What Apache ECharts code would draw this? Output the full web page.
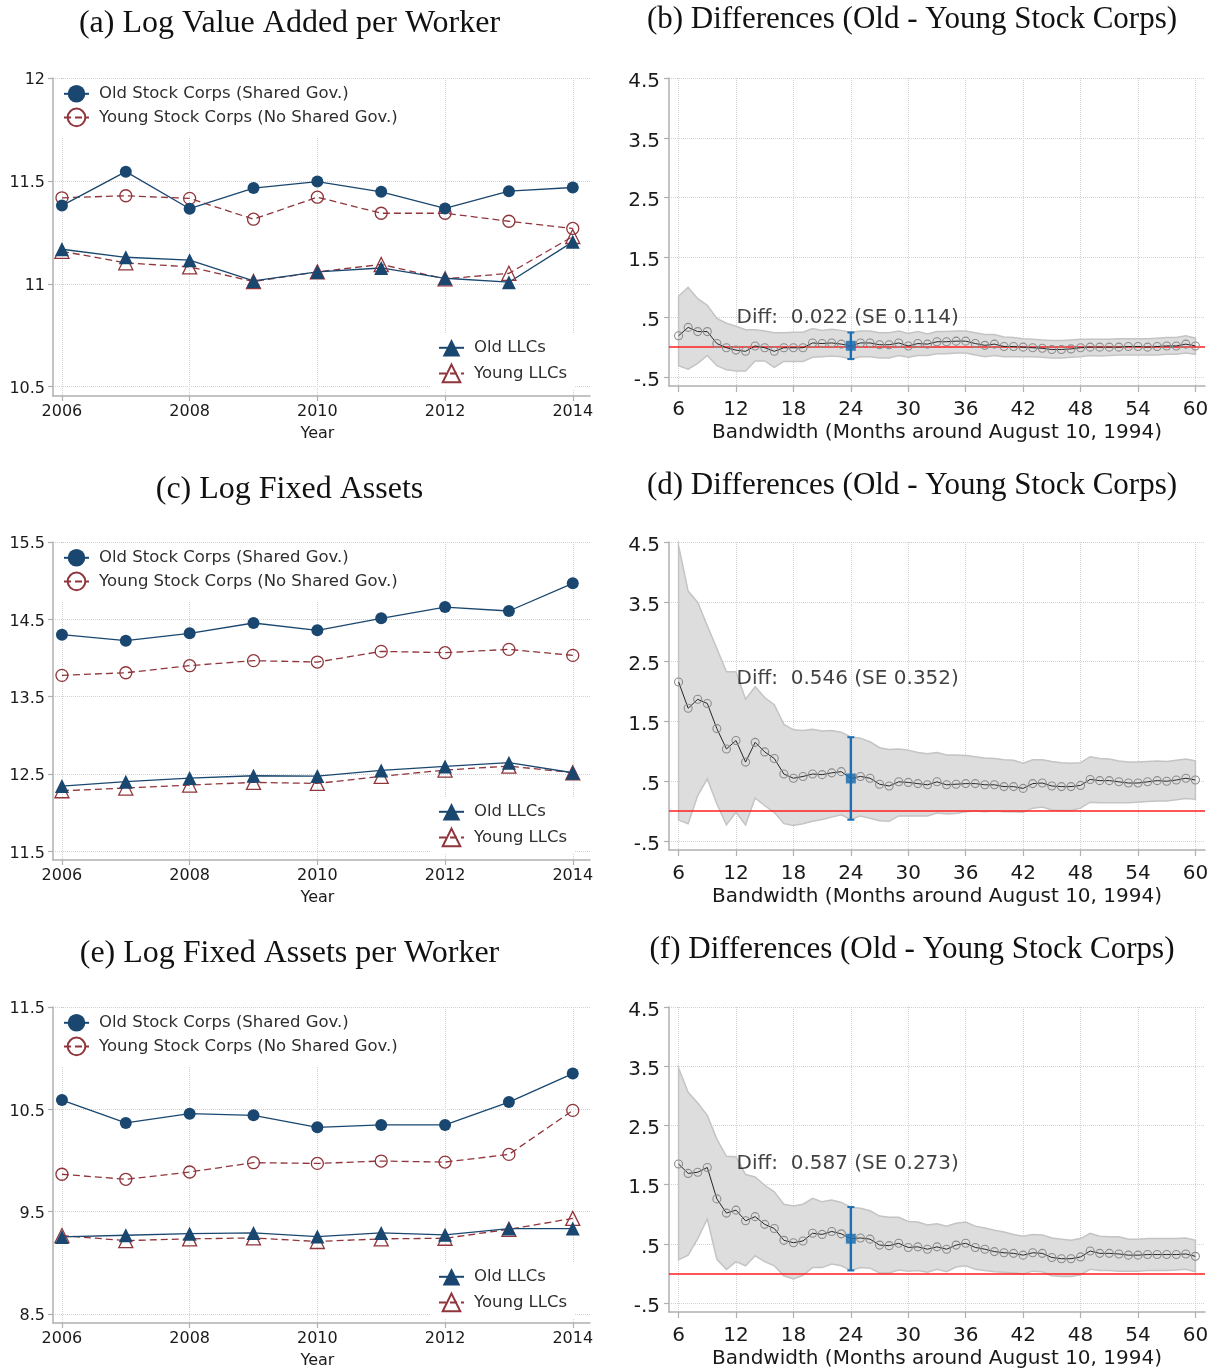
<!DOCTYPE html>
<html>
<head>
<meta charset="utf-8">
<title>Old vs Young Stock Corps</title>
<script src="https://cdn.jsdelivr.net/npm/echarts@6/dist/echarts.min.js"></script>
<style>
  html, body { margin: 0; padding: 0; background: #fff; }
  #chart { width: 1218px; height: 1370px; }
</style>
</head>
<body>
<div id="chart"></div>
<script>
// ---- data: left panels (by year) ----
var years = [2006, 2007, 2008, 2009, 2010, 2011, 2012, 2013, 2014];

// (a) log value added per worker
var vaOldCorp    = [11.38, 11.545, 11.365, 11.465, 11.497, 11.447, 11.366, 11.45, 11.468];
var vaYoungCorp  = [11.418, 11.428, 11.415, 11.314, 11.421, 11.343, 11.343, 11.304, 11.269];
var vaOldLLC     = [11.168, 11.129, 11.115, 11.014, 11.058, 11.077, 11.027, 11.008, 11.204];
var vaYoungLLC   = [11.158, 11.102, 11.082, 11.011, 11.058, 11.094, 11.024, 11.051, 11.23];

// (c) log fixed assets
var faOldCorp    = [14.302, 14.224, 14.319, 14.453, 14.358, 14.513, 14.659, 14.608, 14.966];
var faYoungCorp  = [13.776, 13.81, 13.901, 13.966, 13.948, 14.086, 14.069, 14.112, 14.034];
var faOldLLC     = [12.345, 12.401, 12.448, 12.478, 12.474, 12.547, 12.599, 12.647, 12.517];
var faYoungLLC   = [12.284, 12.319, 12.358, 12.392, 12.379, 12.47, 12.552, 12.603, 12.517];

// (e) log fixed assets per worker
var fwOldCorp    = [10.591, 10.367, 10.458, 10.442, 10.325, 10.348, 10.348, 10.571, 10.85];
var fwYoungCorp  = [9.866, 9.817, 9.888, 9.979, 9.972, 9.995, 9.985, 10.06, 10.49];
var fwOldLLC     = [9.254, 9.27, 9.286, 9.293, 9.257, 9.293, 9.274, 9.335, 9.335];
var fwYoungLLC   = [9.267, 9.218, 9.235, 9.244, 9.209, 9.235, 9.241, 9.328, 9.435];

// ---- data: right panels (by bandwidth in months) ----
var bandwidth = [6, 7, 8, 9, 10, 11, 12, 13, 14, 15, 16, 17, 18, 19, 20, 21, 22, 23, 24, 25,
                 26, 27, 28, 29, 30, 31, 32, 33, 34, 35, 36, 37, 38, 39, 40, 41, 42, 43, 44, 45,
                 46, 47, 48, 49, 50, 51, 52, 53, 54, 55, 56, 57, 58, 59, 60];

// (b)
var diffB = [0.19, 0.33, 0.26, 0.26, 0.06, -0.01, -0.05, -0.07, 0.02, -0.01, -0.07, -0.01, -0.01, -0.01, 0.07, 0.06, 0.07, 0.05, 0.022, 0.07,
             0.07, 0.04, 0.04, 0.07, 0.02, 0.06, 0.05, 0.09, 0.09, 0.10, 0.10, 0.06, 0.03, 0.05, 0.01, 0.01, 0.00, -0.01, -0.02, -0.04,
             -0.04, -0.03, -0.01, 0.00, 0.00, 0.00, 0.00, 0.01, 0.01, 0.00, 0.01, 0.02, 0.02, 0.05, 0.02];
var upB   = [0.85, 1.00, 0.81, 0.70, 0.48, 0.40, 0.35, 0.29, 0.29, 0.27, 0.24, 0.24, 0.25, 0.25, 0.31, 0.28, 0.30, 0.28, 0.25, 0.27,
             0.27, 0.24, 0.24, 0.27, 0.23, 0.26, 0.22, 0.26, 0.26, 0.27, 0.27, 0.24, 0.21, 0.21, 0.17, 0.16, 0.14, 0.13, 0.12, 0.11,
             0.11, 0.12, 0.13, 0.13, 0.13, 0.13, 0.14, 0.14, 0.14, 0.14, 0.15, 0.16, 0.16, 0.19, 0.15];
var loB   = [-0.31, -0.37, -0.27, -0.14, -0.31, -0.38, -0.40, -0.40, -0.23, -0.23, -0.34, -0.24, -0.24, -0.24, -0.17, -0.16, -0.15, -0.16, -0.20, -0.16,
             -0.16, -0.18, -0.18, -0.14, -0.17, -0.14, -0.14, -0.11, -0.11, -0.10, -0.10, -0.13, -0.16, -0.14, -0.16, -0.16, -0.16, -0.16, -0.17, -0.18,
             -0.18, -0.17, -0.16, -0.14, -0.15, -0.14, -0.13, -0.13, -0.13, -0.13, -0.13, -0.12, -0.12, -0.10, -0.12];

// (d)
var diffD = [2.16, 1.72, 1.87, 1.80, 1.38, 1.04, 1.18, 0.82, 1.15, 0.99, 0.88, 0.62, 0.55, 0.58, 0.62, 0.61, 0.64, 0.66, 0.546, 0.58,
             0.55, 0.45, 0.42, 0.49, 0.48, 0.46, 0.44, 0.49, 0.44, 0.45, 0.46, 0.46, 0.44, 0.44, 0.41, 0.41, 0.38, 0.46, 0.47, 0.42,
             0.41, 0.41, 0.43, 0.53, 0.51, 0.51, 0.49, 0.47, 0.47, 0.49, 0.51, 0.50, 0.52, 0.55, 0.52];
var upD   = [4.44, 3.68, 3.49, 3.10, 2.72, 2.33, 2.33, 1.87, 2.08, 1.90, 1.78, 1.45, 1.36, 1.35, 1.37, 1.34, 1.35, 1.32, 1.24, 1.22,
             1.16, 1.06, 1.03, 1.04, 1.02, 0.98, 0.96, 0.98, 0.94, 0.94, 0.93, 0.91, 0.89, 0.88, 0.86, 0.85, 0.80, 0.86, 0.86, 0.83,
             0.81, 0.80, 0.81, 0.91, 0.88, 0.87, 0.84, 0.82, 0.82, 0.83, 0.84, 0.83, 0.85, 0.87, 0.84];
var loD   = [-0.15, -0.21, 0.26, 0.54, 0.12, -0.23, -0.02, -0.23, 0.22, 0.09, -0.02, -0.21, -0.24, -0.21, -0.17, -0.14, -0.10, -0.06, -0.14, -0.08,
             -0.12, -0.16, -0.17, -0.08, -0.08, -0.08, -0.08, -0.03, -0.05, -0.04, -0.01, 0.00, -0.01, 0.00, -0.01, -0.01, -0.02, 0.05, 0.07, 0.02,
             0.01, 0.01, 0.05, 0.15, 0.14, 0.14, 0.14, 0.14, 0.15, 0.16, 0.17, 0.17, 0.19, 0.21, 0.20];

// (f)
var diffF = [1.85, 1.69, 1.71, 1.79, 1.26, 1.02, 1.07, 0.89, 0.96, 0.83, 0.76, 0.56, 0.52, 0.55, 0.68, 0.66, 0.71, 0.67, 0.587, 0.60,
             0.58, 0.48, 0.47, 0.51, 0.44, 0.45, 0.41, 0.45, 0.41, 0.48, 0.51, 0.44, 0.41, 0.37, 0.35, 0.34, 0.31, 0.35, 0.34, 0.27,
             0.25, 0.25, 0.28, 0.38, 0.34, 0.34, 0.33, 0.31, 0.31, 0.32, 0.32, 0.32, 0.32, 0.33, 0.29];
var upF   = [3.47, 3.06, 2.88, 2.67, 2.27, 1.98, 1.97, 1.67, 1.63, 1.49, 1.38, 1.17, 1.14, 1.17, 1.27, 1.21, 1.24, 1.20, 1.12, 1.10,
             1.06, 0.97, 0.95, 0.95, 0.88, 0.87, 0.82, 0.84, 0.80, 0.85, 0.87, 0.80, 0.77, 0.73, 0.70, 0.66, 0.63, 0.66, 0.65, 0.60,
             0.58, 0.56, 0.59, 0.68, 0.63, 0.62, 0.62, 0.58, 0.58, 0.59, 0.59, 0.59, 0.59, 0.60, 0.56];
var loF   = [0.23, 0.31, 0.59, 0.92, 0.24, 0.07, 0.20, 0.13, 0.30, 0.20, 0.13, -0.04, -0.09, -0.03, 0.10, 0.10, 0.16, 0.13, 0.05, 0.10,
             0.09, 0.01, 0.01, 0.06, 0.04, 0.05, 0.02, 0.07, 0.03, 0.11, 0.13, 0.07, 0.05, 0.03, 0.02, 0.01, -0.01, 0.04, 0.03, -0.04,
             -0.05, -0.05, -0.02, 0.07, 0.05, 0.05, 0.04, 0.04, 0.04, 0.05, 0.05, 0.05, 0.06, 0.07, 0.03];

// chosen bandwidth estimate with its 95% interval
var chosenBw = 24;
var chosenDiff = [0.022, 0.546, 0.587];
var chosenCI = [[-0.20, 0.245], [-0.144, 1.236], [0.052, 1.122]];
var notes = ['Diff:  0.022 (SE 0.114)', 'Diff:  0.546 (SE 0.352)', 'Diff:  0.587 (SE 0.273)'];
var noteAt = [[12, 0.49], [12, 2.21], [12, 1.86]];

// tick labels
var yearTicks = [2006, 2008, 2010, 2012, 2014];
var bwTicks = [6, 12, 18, 24, 30, 36, 42, 48, 54, 60];
var diffTicks = [-0.5, 0.5, 1.5, 2.5, 3.5, 4.5];
var aTicks = [10.5, 11, 11.5, 12];
var cTicks = [11.5, 12.5, 13.5, 14.5, 15.5];
var eTicks = [8.5, 9.5, 10.5, 11.5];

var titles = ['(a) Log Value Added per Worker', '(b) Differences (Old - Young Stock Corps)',
              '(c) Log Fixed Assets', '(d) Differences (Old - Young Stock Corps)',
              '(e) Log Fixed Assets per Worker', '(f) Differences (Old - Young Stock Corps)'];

var NAMES = ['Old Stock Corps (Shared Gov.)', 'Young Stock Corps (No Shared Gov.)', 'Old LLCs', 'Young LLCs'];
var NAVY = '#1a476f', MAROON = '#90353b', BLUE = '#1b6fb5', RED = '#ff1f1f';
var SANS = 'DejaVu Sans';
var CLEAR = 'rgba(255,255,255,0)';

function pairs(xs, ys) { return xs.map(function (x, i) { return [x, ys[i]]; }); }
function dotFmt(v) { return String(v).replace(/^(-?)0\./, '$1.'); }
function plain(v) { return String(v); }

var chart = echarts.init(document.getElementById('chart'));
var grids = [], xAxes = [], yAxes = [], series = [], legends = [], graphics = [];

var rowTop = [78, 542, 1007];
var titleY = [[24, 20], [490, 486], [954, 950]];

var leftPanels = [
  { ymin: 10.455, ymax: 12, ticks: aTicks, s: [vaOldCorp, vaYoungCorp, vaOldLLC, vaYoungLLC] },
  { ymin: 11.389, ymax: 15.5, ticks: cTicks, s: [faOldCorp, faYoungCorp, faOldLLC, faYoungLLC] },
  { ymin: 8.413, ymax: 11.5, ticks: eTicks, s: [fwOldCorp, fwYoungCorp, fwOldLLC, fwYoungLLC] }
];
var rightPanels = [
  { diff: diffB, up: upB, lo: loB },
  { diff: diffD, up: upD, lo: loD },
  { diff: diffF, up: upF, lo: loF }
];

function axisBase(extra) {
  var a = {
    axisLine: { show: true, onZero: false, lineStyle: { color: '#b0b0b0', width: 1.5 } },
    axisTick: { show: true, length: 5, lineStyle: { color: '#b0b0b0', width: 1.2 } },
    splitLine: { show: true, lineStyle: { color: '#d2d2d2', type: 'dotted', width: 1 } }
  };
  for (var k in extra) a[k] = extra[k];
  return a;
}

rowTop.forEach(function (top, r) {
  var gl = r * 2, gr = r * 2 + 1;
  var lp = leftPanels[r], rp = rightPanels[r];

  // ---------- left panel ----------
  grids.push({ left: 53, top: top, width: 537, height: 318 });
  xAxes.push(axisBase({
    type: 'value', gridIndex: gl, min: 2005.86, max: 2014.27,
    axisTick: { show: true, length: 5, customValues: yearTicks, lineStyle: { color: '#b0b0b0', width: 1.2 } },
    axisLabel: { customValues: yearTicks, formatter: plain, margin: 8, fontSize: 16, color: '#1a1a1a', fontFamily: SANS },
    name: 'Year', nameLocation: 'middle', nameGap: 30,
    nameTextStyle: { fontSize: 16, color: '#1a1a1a', fontFamily: SANS, padding: [0, 8, 0, 0] }
  }));
  yAxes.push(axisBase({
    type: 'value', gridIndex: gl, min: lp.ymin, max: lp.ymax,
    axisTick: { show: true, length: 5, customValues: lp.ticks, lineStyle: { color: '#b0b0b0', width: 1.2 } },
    axisLabel: { customValues: lp.ticks, formatter: plain, margin: 8, fontSize: 16, color: '#1a1a1a', fontFamily: SANS,
                 verticalAlign: 'top', lineHeight: 4 }
  }));
  var styles = [
    { symbol: 'circle', size: 12, item: { color: NAVY }, line: { color: NAVY, width: 1.3 } },
    { symbol: 'circle', size: 12, item: { color: CLEAR, borderColor: MAROON, borderWidth: 1.3 }, line: { color: MAROON, width: 1.3, type: [7, 4] } },
    { symbol: 'triangle', size: 14, item: { color: NAVY }, line: { color: NAVY, width: 1.3 } },
    { symbol: 'triangle', size: 14, item: { color: CLEAR, borderColor: MAROON, borderWidth: 1.3 }, line: { color: MAROON, width: 1.3, type: [7, 4] } }
  ];
  [1, 3, 0, 2].forEach(function (k) {
    series.push({
      name: NAMES[k], type: 'line', xAxisIndex: gl, yAxisIndex: gl,
      data: pairs(years, lp.s[k]), symbol: styles[k].symbol, symbolSize: styles[k].size,
      showAllSymbol: true, itemStyle: styles[k].item, lineStyle: styles[k].line, z: 3
    });
  });
  var legendCommon = {
    orient: 'vertical', selectedMode: false, backgroundColor: '#fff',
    itemWidth: 25, itemHeight: 22,
    textStyle: { fontSize: 16.5, color: '#2e2e2e', fontFamily: SANS, padding: [0, 0, 0, 5] }
  };
  legends.push(Object.assign({}, legendCommon, {
    data: [NAMES[0], NAMES[1]], left: 55, top: top + 1, itemGap: 5, padding: [6, 8, 10, 8]
  }));
  legends.push(Object.assign({}, legendCommon, {
    data: [NAMES[2], NAMES[3]], left: 430, top: top + 255, itemGap: 7, padding: [6, 8, 6, 8]
  }));

  // ---------- right panel ----------
  grids.push({ left: 669, top: top, width: 536, height: 308 });
  xAxes.push(axisBase({
    type: 'value', gridIndex: gr, min: 5, max: 61,
    axisTick: { show: true, length: 6, customValues: bwTicks, lineStyle: { color: '#b0b0b0', width: 1.2 } },
    axisLabel: { customValues: bwTicks, formatter: plain, margin: 14, fontSize: 20, color: '#1a1a1a', fontFamily: SANS },
    name: 'Bandwidth (Months around August 10, 1994)', nameLocation: 'middle', nameGap: 37,
    nameTextStyle: { fontSize: 20, color: '#1a1a1a', fontFamily: SANS }
  }));
  yAxes.push(axisBase({
    type: 'value', gridIndex: gr, min: -0.65, max: 4.5,
    axisTick: { show: true, length: 5, customValues: diffTicks, lineStyle: { color: '#b0b0b0', width: 1.2 } },
    axisLabel: { customValues: diffTicks, margin: 9, fontSize: 20, color: '#1a1a1a', fontFamily: SANS, formatter: dotFmt,
                 verticalAlign: 'top', lineHeight: 7 }
  }));

  series.push({
    type: 'custom', xAxisIndex: gr, yAxisIndex: gr, z: 1, silent: true,
    data: bandwidth.map(function (m, i) { return [m, rp.lo[i], rp.up[i]]; }),
    encode: { x: 0, y: [1, 2] },
    renderItem: function (params, api) {
      if (params.dataIndex !== 0) return null;
      var pts = [];
      for (var i = 0; i < bandwidth.length; i++) pts.push(api.coord([bandwidth[i], rp.up[i]]));
      for (var j = bandwidth.length - 1; j >= 0; j--) pts.push(api.coord([bandwidth[j], rp.lo[j]]));
      return { type: 'polygon', shape: { points: pts }, style: { fill: '#dddddd', stroke: '#c4c4c4', lineWidth: 1.5 } };
    }
  });
  series.push({
    type: 'line', xAxisIndex: gr, yAxisIndex: gr, z: 3,
    data: pairs(bandwidth, rp.diff), symbol: 'circle', symbolSize: 8, showAllSymbol: true,
    itemStyle: { color: CLEAR, borderColor: '#8c8c8c', borderWidth: 1.1 },
    lineStyle: { color: '#262626', width: 1 },
    markLine: {
      silent: true, symbol: ['none', 'none'], label: { show: false }, z: 2,
      lineStyle: { color: RED, width: 1.6, type: 'solid' }, data: [{ yAxis: 0 }]
    }
  });
  series.push({
    type: 'custom', xAxisIndex: gr, yAxisIndex: gr, z: 5, silent: true,
    data: [[chosenBw, chosenCI[r][0], chosenCI[r][1]]],
    encode: { x: 0, y: [1, 2] },
    renderItem: function (params, api) {
      var hi = api.coord([api.value(0), api.value(2)]);
      var lo = api.coord([api.value(0), api.value(1)]);
      var c = 3.5;
      return { type: 'group', children: [
        { type: 'line', shape: { x1: hi[0], y1: hi[1], x2: lo[0], y2: lo[1] }, style: { stroke: BLUE, lineWidth: 2.4 } },
        { type: 'line', shape: { x1: hi[0] - c, y1: hi[1], x2: hi[0] + c, y2: hi[1] }, style: { stroke: BLUE, lineWidth: 2 } },
        { type: 'line', shape: { x1: lo[0] - c, y1: lo[1], x2: lo[0] + c, y2: lo[1] }, style: { stroke: BLUE, lineWidth: 2 } }
      ] };
    }
  });
  series.push({
    type: 'scatter', xAxisIndex: gr, yAxisIndex: gr, z: 6, silent: true,
    data: [[chosenBw, chosenDiff[r]]], symbol: 'rect', symbolSize: 10, itemStyle: { color: BLUE }
  });
  series.push({
    type: 'scatter', xAxisIndex: gr, yAxisIndex: gr, z: 7, silent: true,
    data: [noteAt[r]], symbolSize: 1, itemStyle: { color: CLEAR },
    label: { show: true, position: 'right', distance: 0, formatter: notes[r],
             fontSize: 20, color: '#111', fontFamily: SANS }
  });

  // titles
  graphics.push({ type: 'text', x: 289.5, y: titleY[r][0],
    style: { text: titles[gl], font: '32px "Liberation Serif"', fill: '#111', textAlign: 'center', textVerticalAlign: 'middle' } });
  graphics.push({ type: 'text', x: 912, y: titleY[r][1],
    style: { text: titles[gr], font: '31px "Liberation Serif"', fill: '#111', textAlign: 'center', textVerticalAlign: 'middle' } });
});

chart.setOption({
  animation: false,
  backgroundColor: '#fff',
  grid: grids,
  xAxis: xAxes,
  yAxis: yAxes,
  legend: legends,
  graphic: graphics,
  series: series
});
</script>
</body>
</html>
